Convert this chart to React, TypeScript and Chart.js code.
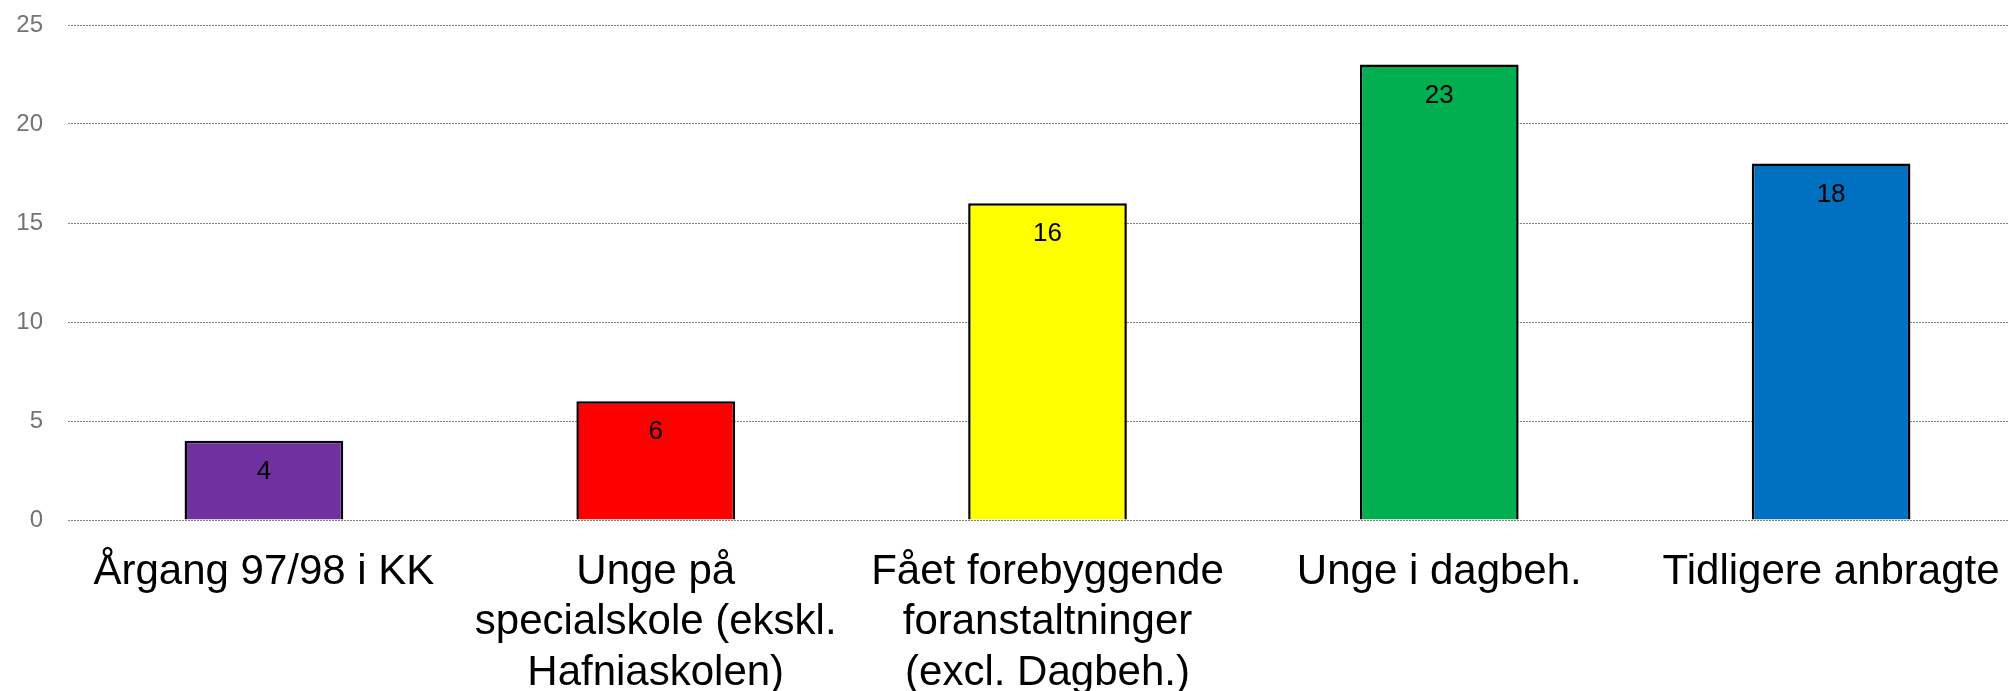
import React, { useEffect, useRef } from "react";
import { Chart, registerables } from "chart.js";

Chart.register(...registerables);

const categories: (string | string[])[] = [
  "Årgang 97/98 i KK",
  ["Unge på", "specialskole (ekskl.", "Hafniaskolen)"],
  ["Fået forebyggende", "foranstaltninger", "(excl. Dagbeh.)"],
  "Unge i dagbeh.",
  "Tidligere anbragte",
];
const values: number[] = [4, 6, 16, 23, 18];
const barColors: string[] = ["#7030A0", "#FF0000", "#FFFF00", "#00B050", "#0070C0"];
const yTicks = { min: 0, max: 25, step: 5 };

const FONT = "'Liberation Sans', Arial, sans-serif";

const valueLabels = {
  id: "valueLabels",
  afterDatasetsDraw(chart: any) {
    const ctx = chart.ctx;
    const meta = chart.getDatasetMeta(0);
    ctx.save();
    ctx.font = `26px ${FONT}`;
    ctx.fillStyle = "#000";
    ctx.textAlign = "center";
    ctx.textBaseline = "middle";
    meta.data.forEach((bar: any, i: number) => {
      ctx.fillText(String(values[i]), bar.x, bar.y + 31);
    });
    ctx.restore();
  },
};

export default function App() {
  const ref = useRef<HTMLCanvasElement>(null);
  useEffect(() => {
    if (!ref.current) return;
    const chart = new Chart(ref.current, {
      type: "bar",
      data: {
        labels: categories,
        datasets: [
          {
            data: values,
            backgroundColor: barColors,
            borderColor: "#000",
            borderWidth: 2.5,
            barPercentage: 0.405,
            categoryPercentage: 1,
          },
        ],
      },
      options: {
        animation: false,
        responsive: true,
        maintainAspectRatio: false,
        layout: { padding: { top: 25, left: 16, right: 0, bottom: 0 } },
        plugins: {
          legend: { display: false },
          tooltip: { enabled: false },
        },
        scales: {
          x: {
            grid: { display: false, drawTicks: false },
            border: { display: false },
            ticks: {
              color: "#000",
              font: { family: FONT, size: 42, lineHeight: 1.2 },
              padding: 27,
              maxRotation: 0,
              autoSkip: false,
            },
            afterFit(scale: any) {
              scale.paddingLeft = 0;
              scale.paddingRight = 0;
              scale.height = 171;
            },
          },
          y: {
            min: yTicks.min,
            max: yTicks.max,
            grid: { color: "#7f7f7f", lineWidth: 1, drawTicks: false },
            border: { display: false, dash: [2, 1] },
            ticks: {
              stepSize: yTicks.step,
              color: "#737373",
              font: { family: FONT, size: 24 },
              padding: 25,
            },
            afterFit(scale: any) {
              scale.width = 52;
              scale.paddingTop = 0;
              scale.paddingBottom = 0;
            },
          },
        },
      },
      plugins: [valueLabels],
    });
    return () => chart.destroy();
  }, []);
  return (
    <div style={{ position: "fixed", left: 0, top: 0, width: 2009, height: 691, overflow: "hidden", background: "#fff" }}>
      <div style={{ position: "relative", width: 2027, height: 691 }}>
        <canvas ref={ref} />
      </div>
    </div>
  );
}
